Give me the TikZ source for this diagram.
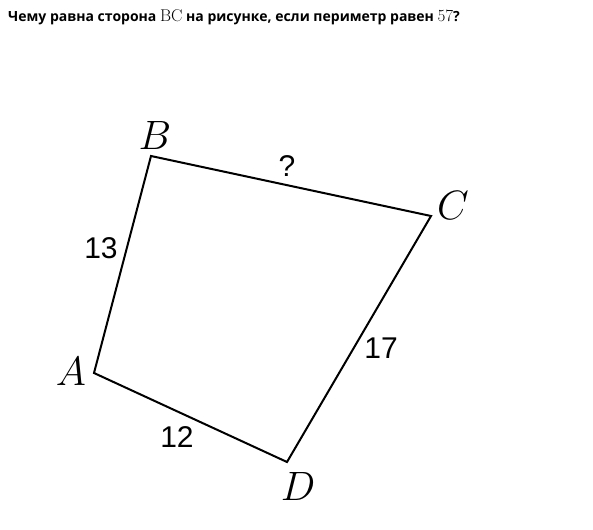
\RequirePackage{fix-cm}
\documentclass[tikz,border=0pt]{standalone}
\usepackage{fontspec}
\newfontfamily\titlefont{Open Sans}
\newfontfamily\labfont{Liberation Sans}
\begin{document}
\begin{tikzpicture}[x=1pt,y=-1pt,
  side/.style={line width=2pt, line join=miter},
  vlab/.style={font=\fontsize{41}{45}\selectfont, inner sep=0pt},
  elab/.style={font=\labfont\fontsize{30}{34}\selectfont, inner sep=0pt}]
\useasboundingbox (0,0) rectangle (593,529);
\node[anchor=base west, inner sep=0pt, font=\titlefont\bfseries\fontsize{14}{16}\selectfont] (title) at (8,22)
  {Чему равна сторона {\fontsize{17}{18}\selectfont$\mathrm{BC}$} на рисунке, если периметр равен {\fontsize{17}{18}\selectfont$57$}?};
\coordinate (A) at (94,373);
\coordinate (B) at (151,156);
\coordinate (C) at (431,216);
\coordinate (D) at (287,462);
\draw[side] (A) -- (B) -- (C) -- (D) -- cycle;
\node[vlab] (lA) at (71,371) {$A$};
\node[vlab] (lB) at (155,135) {$B$};
\node[vlab] (lC) at (453,205) {$C$};
\node[vlab] (lD) at (298,486) {$D$};
\node[elab] (e13) at (101,248) {13};
\node[elab] (eq) at (287,166) {?};
\node[elab] (e17) at (381,348) {17};
\node[elab] (e12) at (177,437) {12};
\end{tikzpicture}
\end{document}
